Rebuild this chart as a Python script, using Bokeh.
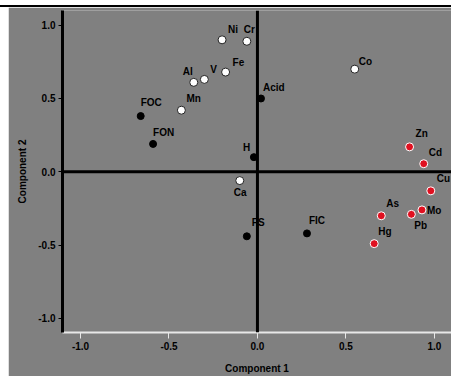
from bokeh.plotting import figure
from bokeh.models import ColumnDataSource, Span, FixedTicker, Range1d, Spacer
from bokeh.layouts import column, row
from bokeh.embed import file_html
from bokeh.resources import INLINE
from bokeh.core.properties import value

# Data (loadings on component 1 and component 2)
white_names = ["Ni", "Cr", "Fe", "V", "Al", "Mn", "Co", "Ca"]
white_x = [-0.20, -0.06, -0.18, -0.30, -0.36, -0.43, 0.55, -0.10]
white_y = [0.90, 0.89, 0.68, 0.63, 0.61, 0.42, 0.70, -0.06]

black_names = ["FOC", "FON", "Acid", "H", "FS", "FIC"]
black_x = [-0.66, -0.59, 0.02, -0.02, -0.06, 0.28]
black_y = [0.38, 0.19, 0.50, 0.10, -0.44, -0.42]

red_names = ["Zn", "Cd", "Cu", "As", "Mo", "Pb", "Hg"]
red_x = [0.86, 0.94, 0.98, 0.70, 0.93, 0.87, 0.66]
red_y = [0.17, 0.055, -0.13, -0.30, -0.26, -0.29, -0.49]

ticks = [-1.0, -0.5, 0.0, 0.5, 1.0]

# label offsets in screen pixels (style only; negative y = up)
white_off_x = [6, -3, 7, 6, -11, 5, 4, -6]
white_off_y = [-5, -6, -4, -4, -5, -6, -2, 17]
black_off_x = [0, 0, 2, -11, 5, 2]
black_off_y = [-8, -6, -5, -4, -8, -7]
red_off_x = [6, 5, 6, 5, 5, 3, 4]
red_off_y = [-8, -6, -7, -7, 6, 17, -7]

BG = "#808080"

p = figure(width=443, height=369, output_backend="svg", toolbar_location=None,
           x_range=Range1d(-1.102, 1.097), y_range=Range1d(-1.096, 1.1),
           min_border_left=54, min_border_right=0, min_border_top=3, min_border_bottom=44)
p.background_fill_color = BG
p.border_fill_color = BG
p.outline_line_color = None
p.grid.grid_line_color = None

# zero lines
p.add_layout(Span(location=0, dimension="height", line_color="black", line_width=3))
p.add_layout(Span(location=0, dimension="width", line_color="black", line_width=3))

srcw = ColumnDataSource(dict(x=white_x, y=white_y, name=white_names, ox=white_off_x, oy=white_off_y))
srcb = ColumnDataSource(dict(x=black_x, y=black_y, name=black_names, ox=black_off_x, oy=black_off_y))
srcr = ColumnDataSource(dict(x=red_x, y=red_y, name=red_names, ox=red_off_x, oy=red_off_y))

p.scatter("x", "y", source=srcw, size=8, fill_color="white", line_color="#222222", line_width=1)
p.scatter("x", "y", source=srcb, size=7, fill_color="black", line_color="black")
p.scatter("x", "y", source=srcr, size=8, fill_color="#e01020", line_color="white", line_width=1)

for src in (srcw, srcb, srcr):
    p.text("x", "y", text="name", source=src, x_offset="ox", y_offset="oy",
           text_font=value("Liberation Sans"), text_font_size="10px", text_font_style="bold",
           text_color="black", text_align="left", text_baseline="bottom")

# axes
p.xaxis.ticker = FixedTicker(ticks=ticks)
p.yaxis.ticker = FixedTicker(ticks=ticks)
p.xaxis.major_label_overrides = {t: f"{t:.1f}" for t in ticks}
p.yaxis.major_label_overrides = {t: f"{t:.1f}" for t in ticks}
p.xaxis.axis_label = "Component 1"
p.yaxis.axis_label = "Component 2"
for ax in (p.xaxis, p.yaxis):
    ax.minor_tick_line_color = None
    ax.major_tick_in = 0
    ax.major_label_text_font = "Liberation Sans"
    ax.major_label_text_font_size = "10px"
    ax.major_label_text_font_style = "bold"
    ax.major_label_text_color = "black"
    ax.axis_label_text_font = "Liberation Sans"
    ax.axis_label_text_font_size = "10px"
    ax.axis_label_text_font_style = "bold"
    ax.axis_label_text_color = "black"
p.xaxis.axis_line_color = "#e8e8e8"
p.xaxis.axis_line_width = 2
p.xaxis.major_tick_line_color = "#e8e8e8"
p.xaxis.major_tick_out = 6
p.yaxis.axis_line_color = "black"
p.yaxis.axis_line_width = 3
p.yaxis.major_tick_line_color = "black"
p.yaxis.major_tick_out = 4
p.xaxis.major_label_standoff = 3
p.xaxis.axis_label_standoff = 10
p.yaxis.major_label_standoff = 3
p.yaxis.axis_label_standoff = 7

# page furniture seen in the reference: a black rule on top, white strip on the left
rule = Spacer(width=451, height=2, styles={"background-color": "black"})
layout = column(Spacer(width=451, height=5), rule,
                row(Spacer(width=8, height=369), p, spacing=0), spacing=0)

open("out.html", "w").write(file_html(layout, INLINE))
